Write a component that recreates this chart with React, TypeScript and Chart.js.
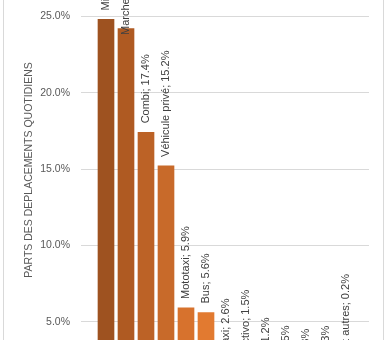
import { useEffect, useRef } from 'react';
import { Chart, registerables } from 'chart.js';

Chart.register(...registerables);

const categories = [
  'Minibus',
  'Marche à pied',
  'Combi',
  'Véhicule privé',
  'Mototaxi',
  'Bus',
  'Taxi',
  'Colectivo',
  'Vélo',
  'Train',
  'Moto',
  'Cyclo',
  'Bateau et autres',
];
const shares = [24.8, 24.2, 17.4, 15.2, 5.9, 5.6, 2.6, 1.5, 1.2, 0.5, 0.3, 0.3, 0.2];
const barColors = [
  '#9E5220', '#AF5A22', '#BC6226', '#C86A2A', '#D7722D', '#E27A30',
  '#E8874A', '#EC9560', '#EFA376', '#F2B18C', '#F4BFA2', '#F7CDB8', '#F9DBCE',
];
const yTicks = [5, 10, 15, 20, 25];
const yTitle = 'PARTS DES DEPLACEMENTS QUOTIDIENS';

const W = 388;
const H = 340;
const PAD_TOP = 80;
const PAD_BOTTOM = 60;
const FONT = '"Liberation Sans", Arial, sans-serif';
const X_MIN = -1.25;
const X_MAX = 13.15;

const framePlugin = {
  id: 'frame',
  beforeDraw(chart: any) {
    const { ctx, width, height } = chart;
    ctx.save();
    ctx.fillStyle = '#ffffff';
    ctx.fillRect(0, 0, width, height);
    ctx.strokeStyle = '#d9d9d9';
    ctx.lineWidth = 1;
    ctx.beginPath();
    ctx.moveTo(3.5, 0);
    ctx.lineTo(3.5, height);
    ctx.moveTo(383.5, 0);
    ctx.lineTo(383.5, height);
    ctx.stroke();
    ctx.restore();
  },
};

const labelPlugin = {
  id: 'barLabels',
  afterDatasetsDraw(chart: any) {
    const { ctx } = chart;
    const meta = chart.getDatasetMeta(0);
    const limit = 8;
    ctx.save();
    ctx.font = `11px ${FONT}`;
    ctx.fillStyle = '#404040';
    ctx.textAlign = 'left';
    ctx.textBaseline = 'middle';
    meta.data.forEach((bar: any, i: number) => {
      const text = `${categories[i]}; ${shares[i].toFixed(1)}%`;
      const w = ctx.measureText(text).width;
      const start = Math.max(bar.y - 9, limit + w);
      ctx.save();
      ctx.translate(bar.x, start);
      ctx.rotate(-Math.PI / 2);
      ctx.fillText(text, 0, 0);
      ctx.restore();
    });
    ctx.restore();
  },
};

export default function App() {
  const ref = useRef<HTMLCanvasElement | null>(null);

  useEffect(() => {
    if (!ref.current) return;
    const chart = new Chart(ref.current, {
      type: 'bar',
      data: {
        datasets: [
          {
            data: shares.map((v, i) => ({ x: i, y: v })),
            backgroundColor: barColors,
            barThickness: 16,
            borderWidth: 0,
          },
        ],
      },
      options: {
        animation: false,
        responsive: false,
        devicePixelRatio: 1,
        layout: { padding: { top: PAD_TOP, bottom: PAD_BOTTOM, left: 0, right: 19 } },
        plugins: {
          legend: { display: false },
          tooltip: { enabled: false },
        },
        scales: {
          x: {
            type: 'linear',
            display: false,
            offset: false,
            min: X_MIN,
            max: X_MAX,
            afterBuildTicks: (scale: any) => {
              scale.min = X_MIN;
              scale.max = X_MAX;
            },
          },
          y: {
            type: 'linear',
            min: 3.8,
            max: 26.07,
            afterBuildTicks: (scale: any) => {
              scale.ticks = yTicks.map((v) => ({ value: v }));
            },
            afterFit: (scale: any) => {
              scale.width = 81;
            },
            border: { display: false },
            grid: { color: '#d9d9d9', lineWidth: 1, drawTicks: false },
            ticks: {
              padding: 11,
              color: '#595959',
              font: { family: FONT, size: 10.5 },
              callback: (v: any) => Number(v).toFixed(1) + '%',
            },
            title: {
              display: true,
              text: yTitle,
              color: '#595959',
              font: { family: FONT, size: 10.5 },
              padding: { top: 23, bottom: 0 },
            },
          },
        },
      },
      plugins: [framePlugin, labelPlugin],
    } as any);
    return () => chart.destroy();
  }, []);

  return (
    <div
      style={{
        position: 'fixed',
        left: 0,
        top: 0,
        width: W,
        height: H,
        overflow: 'hidden',
        background: '#ffffff',
      }}
    >
      <canvas
        ref={ref}
        width={W}
        height={H + PAD_TOP + PAD_BOTTOM}
        style={{
          position: 'absolute',
          left: 0,
          top: -PAD_TOP,
          width: W,
          height: H + PAD_TOP + PAD_BOTTOM,
        }}
      />
    </div>
  );
}
